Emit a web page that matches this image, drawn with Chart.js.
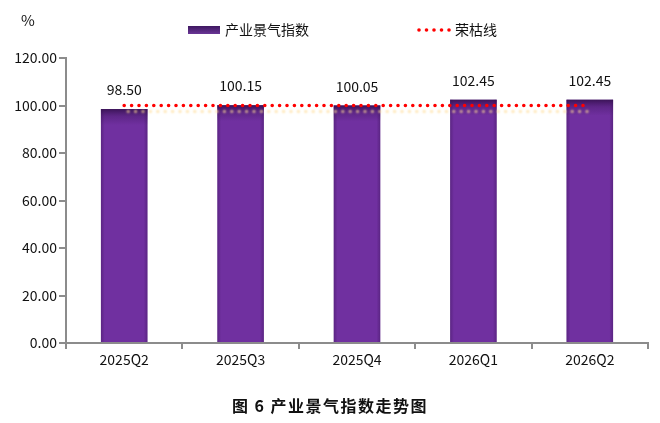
<!DOCTYPE html>
<html>
<head>
<meta charset="utf-8">
<script src="https://cdn.jsdelivr.net/npm/chart.js@4/dist/chart.umd.min.js"></script>
<style>
  html, body { margin: 0; padding: 0; background: #fff; }
  #wrap { position: relative; width: 660px; height: 423px; }
  #title {
    position: absolute; left: 0; top: 393px; width: 660px; text-align: center;
    font-family: "Noto Sans CJK SC", sans-serif; font-weight: bold; font-size: 16px;
    letter-spacing: 1.5px; color: #111;
  }
</style>
</head>
<body>
<div id="wrap">
  <canvas id="myChart" width="660" height="423"></canvas>
  <div id="title">图 6 产业景气指数走势图</div>
</div>
<script>
const categories = ["2025Q2", "2025Q3", "2025Q4", "2026Q1", "2026Q2"];
const indexValues = [98.50, 100.15, 100.05, 102.45, 102.45];
const lineValues = [100, 100, 100, 100, 100];
const yTicks = [0, 20, 40, 60, 80, 100, 120];

const FONT = '"Noto Sans CJK SC", "Noto Sans", sans-serif';
const purple = "#7030a0";

// legend, % label, value labels, bar caps, line shadow
const extras = {
  id: "extras",
  beforeDatasetDraw(chart, args) {
    if (args.index === 1) {
      const c = chart.ctx;
      c.save();
      c.shadowColor = "rgba(255, 220, 150, 0.6)";
      c.shadowOffsetY = 6;
      c.shadowOffsetX = 4;
      c.shadowBlur = 2;
    }
  },
  afterDatasetDraw(chart, args) {
    const c = chart.ctx;
    if (args.index === 1) {
      c.restore();
      return;
    }
    // dark cap + edge shading on each bar
    chart.getDatasetMeta(0).data.forEach(bar => {
      const w = bar.width, x0 = bar.x - w / 2;
      const g = c.createLinearGradient(0, bar.y, 0, bar.y + 16);
      g.addColorStop(0, "rgba(50, 15, 75, 0.85)");
      g.addColorStop(0.45, "rgba(60, 20, 90, 0.35)");
      g.addColorStop(1, "rgba(60, 20, 90, 0)");
      c.fillStyle = g;
      c.fillRect(x0, bar.y, w, 16);
      const h = c.createLinearGradient(x0, 0, x0 + w, 0);
      h.addColorStop(0, "rgba(50, 15, 75, 0.35)");
      h.addColorStop(0.08, "rgba(50, 15, 75, 0)");
      h.addColorStop(0.92, "rgba(50, 15, 75, 0)");
      h.addColorStop(1, "rgba(50, 15, 75, 0.35)");
      c.fillStyle = h;
      c.fillRect(x0, bar.y, w, bar.base - bar.y);
    });
  },
  afterDraw(chart) {
    const c = chart.ctx;
    c.save();
    c.fillStyle = "#111";
    c.font = "15px " + FONT;
    c.textBaseline = "middle";
    c.fillText("%", 21, 20);

    // legend item 1
    const g = c.createLinearGradient(0, 26, 0, 34);
    g.addColorStop(0, "#3e1760");
    g.addColorStop(1, "#6a3696");
    c.fillStyle = g;
    c.fillRect(188, 26, 32, 8);
    c.fillStyle = "#111";
    c.font = "14px " + FONT;
    c.fillText("产业景气指数", 225, 30);

    // legend item 2
    c.fillStyle = "#ff0000";
    for (let i = 0; i < 5; i++) {
      c.beginPath();
      c.arc(419 + i * 7.5, 30, 1.8, 0, Math.PI * 2);
      c.fill();
    }
    c.fillStyle = "#111";
    c.fillText("荣枯线", 455, 30);

    // value labels
    const meta = chart.getDatasetMeta(0);
    c.textAlign = "center";
    meta.data.forEach((bar, i) => {
      c.fillText(indexValues[i].toFixed(2), bar.x, bar.y - 19);
    });
    c.restore();
  }
};

const data = {
  labels: categories,
  datasets: [
    {
      type: "bar",
      data: indexValues,
      backgroundColor: purple,
      borderWidth: 0,
      barPercentage: 0.4,
      categoryPercentage: 1,
      order: 2,
    },
    {
      type: "line",
      data: lineValues,
      borderColor: "#ff0000",
      borderWidth: 3.6,
      borderDash: [0, 7.4],
      borderCapStyle: "round",
      pointRadius: 0,
      fill: false,
      order: 1,
    },
  ],
};

const config = {
  data: data,
  options: {
    responsive: false,
    animation: false,
    events: [],
    layout: { padding: { left: 6, right: 12, top: 58, bottom: 50 } },
    scales: {
      x: {
        offset: true,
        grid: {
          offset: true,
          drawOnChartArea: false,
          color: "#8c8c8c",
          lineWidth: 2,
          tickLength: 6,
        },
        border: { color: "#8c8c8c", width: 2 },
        ticks: { color: "#111", font: { family: FONT, size: 14 }, padding: 2 },
        afterFit(s) { s.height = 30; },
      },
      y: {
        min: 0,
        max: 120,
        afterBuildTicks(s) { s.ticks = yTicks.map(v => ({ value: v })); },
        grid: {
          drawOnChartArea: false,
          color: "#8c8c8c",
          lineWidth: 2,
          tickLength: 7,
        },
        border: { color: "#8c8c8c", width: 2 },
        ticks: {
          color: "#111",
          font: { family: FONT, size: 14 },
          padding: 2,
          callback: v => v.toFixed(2),
        },
        afterFit(s) { s.width = 60; },
      },
    },
    plugins: {
      legend: { display: false },
      tooltip: { enabled: false },
    },
  },
  plugins: [extras],
};

const myChart = new Chart(document.getElementById("myChart"), config);
</script>
</body>
</html>
